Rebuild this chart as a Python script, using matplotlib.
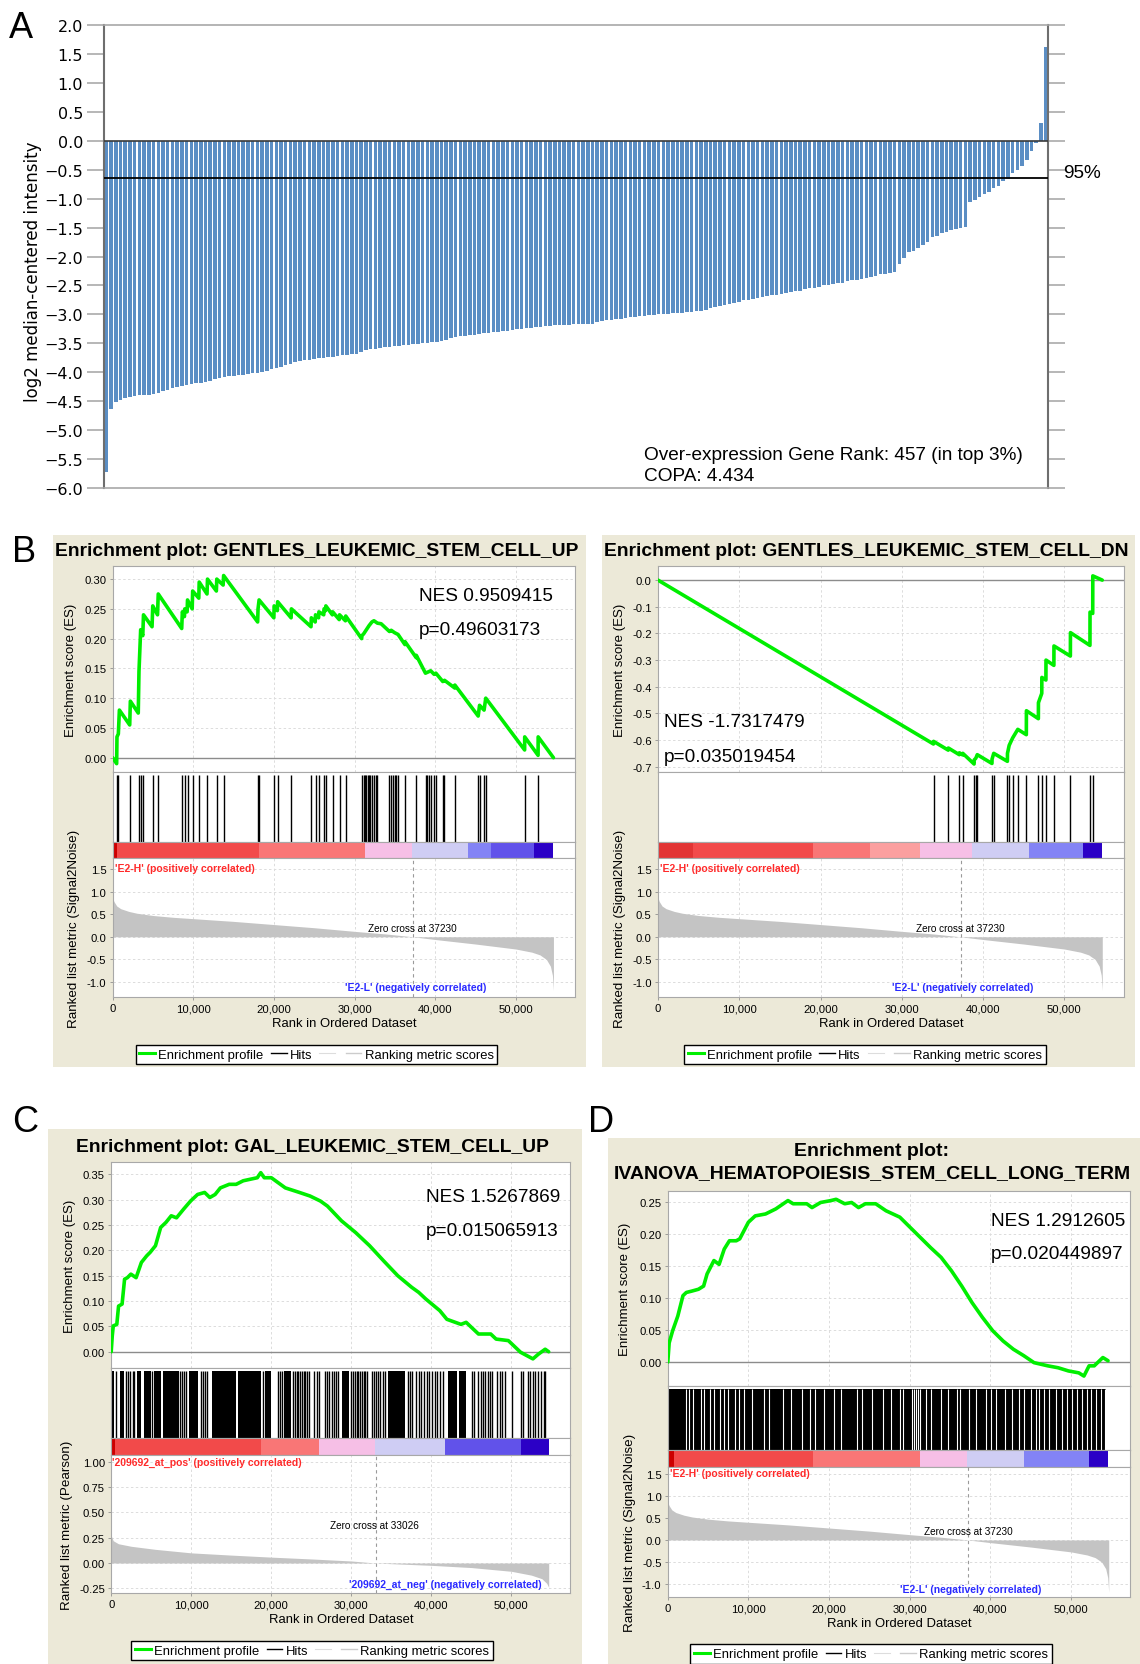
import numpy as np
import matplotlib
matplotlib.use('Agg')
import matplotlib.pyplot as plt
from matplotlib.patches import Rectangle
from matplotlib.lines import Line2D

SANS = ['Liberation Sans', 'DejaVu Sans']
plt.rcParams['font.family'] = SANS

# ── Panel A: COPA bar data (log2 median-centered intensity) ─────────────────
A_VALUES = [
    -5.72, -4.63, -4.52, -4.48, -4.45, -4.42, -4.41, -4.40, -4.40, -4.39,
    -4.37, -4.35, -4.33, -4.30, -4.27, -4.25, -4.23, -4.22, -4.21, -4.19,
    -4.18, -4.17, -4.15, -4.12, -4.10, -4.08, -4.07, -4.06, -4.05, -4.04,
    -4.03, -4.02, -4.01, -3.99, -3.97, -3.95, -3.93, -3.91, -3.88, -3.85,
    -3.82, -3.80, -3.79, -3.78, -3.77, -3.76, -3.75, -3.74, -3.73, -3.72,
    -3.71, -3.70, -3.69, -3.68, -3.65, -3.62, -3.60, -3.59, -3.58, -3.57,
    -3.56, -3.55, -3.54, -3.53, -3.53, -3.52, -3.51, -3.50, -3.49, -3.48,
    -3.48, -3.46, -3.44, -3.41, -3.39, -3.38, -3.37, -3.36, -3.35, -3.34,
    -3.33, -3.32, -3.31, -3.30, -3.29, -3.28, -3.27, -3.26, -3.25, -3.24,
    -3.23, -3.22, -3.21, -3.20, -3.20, -3.19, -3.19, -3.18, -3.18, -3.17,
    -3.17, -3.16, -3.16, -3.16, -3.14, -3.12, -3.10, -3.09, -3.08, -3.08,
    -3.06, -3.05, -3.04, -3.03, -3.02, -3.01, -3.01, -3.00, -2.99, -2.99,
    -2.98, -2.98, -2.97, -2.96, -2.96, -2.95, -2.95, -2.92, -2.89, -2.88,
    -2.86, -2.84, -2.82, -2.80, -2.78, -2.76, -2.75, -2.73, -2.72, -2.70,
    -2.69, -2.67, -2.66, -2.64, -2.63, -2.61, -2.60, -2.59, -2.57, -2.55,
    -2.54, -2.52, -2.50, -2.49, -2.47, -2.46, -2.45, -2.43, -2.41, -2.40,
    -2.39, -2.37, -2.35, -2.33, -2.31, -2.30, -2.28, -2.27, -2.13, -2.02,
    -1.93, -1.90, -1.86, -1.80, -1.75, -1.66, -1.64, -1.60, -1.57, -1.55,
    -1.53, -1.51, -1.49, -1.06, -1.03, -0.97, -0.92, -0.88, -0.82, -0.78,
    -0.70, -0.66, -0.56, -0.50, -0.43, -0.33, -0.17, -0.04, 0.31, 1.62,
]
A_CUTOFF = -0.65
A_TICKS = [2.0, 1.5, 1.0, 0.5, 0.0, -0.5, -1.0, -1.5, -2.0, -2.5, -3.0,
           -3.5, -4.0, -4.5, -5.0, -5.5, -6.0]
A_RANK_TEXT = 'Over-expression Gene Rank: 457 (in top 3%)'
A_COPA_TEXT = 'COPA: 4.434'

# ── GSEA: ranked metric (same E2-H vs E2-L dataset for B and D) ─────────────
RANK_TICKS = [0, 10000, 20000, 30000, 40000, 50000]
METRIC_S2N = [(0, 0.86), (150, 0.78), (500, 0.68), (1000, 0.62), (2000, 0.56),
              (3000, 0.52), (5000, 0.47), (7500, 0.43), (10000, 0.40),
              (15000, 0.34), (20000, 0.27), (25000, 0.20), (30000, 0.12),
              (34000, 0.06), (37230, 0.0), (40000, -0.06), (45000, -0.16),
              (50000, -0.27), (52000, -0.34), (53000, -0.40), (53800, -0.50),
              (54300, -0.65), (54550, -0.85), (54675, -1.18)]
METRIC_PEARSON = [(0, 0.27), (250, 0.22), (900, 0.19), (2500, 0.165),
                  (5500, 0.135), (10000, 0.10), (15000, 0.078), (20000, 0.058),
                  (25000, 0.040), (30000, 0.020), (33026, 0.0), (36000, -0.010),
                  (40000, -0.023), (45000, -0.045), (50000, -0.082),
                  (52500, -0.12), (53800, -0.155), (54400, -0.20), (54650, -0.24)]

# ── B left: GENTLES_LEUKEMIC_STEM_CELL_UP ───────────────────────────────────
B_UP_ES = [(0, 0.000), (490, -0.010), (530, 0.035), (700, 0.040), (830, 0.080),
           (2110, 0.055), (2190, 0.095), (3170, 0.075), (3260, 0.145),
           (3470, 0.215), (3730, 0.205), (3820, 0.240), (4880, 0.220),
           (4970, 0.255), (5560, 0.240), (5650, 0.275), (8560, 0.217),
           (8640, 0.245), (8900, 0.237), (8940, 0.250), (9230, 0.245),
           (9280, 0.265), (9860, 0.250), (9920, 0.280), (10680, 0.268),
           (10730, 0.295), (11700, 0.275), (11760, 0.300), (12860, 0.280),
           (12910, 0.300), (13700, 0.290), (13760, 0.306), (17980, 0.228),
           (18030, 0.250), (18160, 0.265), (19990, 0.235), (20030, 0.255),
           (20420, 0.247), (20460, 0.262), (22130, 0.235), (22170, 0.250),
           (24600, 0.220), (24640, 0.235), (25120, 0.228), (25160, 0.240),
           (25540, 0.235), (25580, 0.245), (26180, 0.240), (26220, 0.250),
           (26400, 0.247), (26440, 0.255), (27250, 0.240), (27290, 0.245),
           (28100, 0.232), (28140, 0.240), (28870, 0.230), (28910, 0.238),
           (30880, 0.200), (30920, 0.205), (31130, 0.208), (31470, 0.215),
           (31810, 0.222), (32160, 0.228), (32410, 0.230), (32840, 0.226),
           (33300, 0.225), (34330, 0.212), (34550, 0.214), (34970, 0.210),
           (35400, 0.207), (36250, 0.190), (36260, 0.195), (37650, 0.168),
           (37660, 0.172), (38800, 0.142), (39450, 0.146), (39880, 0.140),
           (40090, 0.142), (40950, 0.128), (41160, 0.130), (42440, 0.117),
           (42450, 0.122), (45340, 0.070), (45510, 0.088), (46070, 0.080),
           (46280, 0.100), (51100, 0.013), (51110, 0.035), (52770, 0.004),
           (52780, 0.035), (54675, 0.0)]
B_UP_HITS = [530, 700, 2190, 3260, 3470, 3820, 4970, 5650, 8640, 8940, 9280,
             9920, 10730, 11760, 12910, 13760, 18030, 18160, 20030, 20460,
             22170, 24640, 25160, 25580, 26220, 26440, 27290, 28140, 28910,
             30920, 31130, 31300, 31470, 31640, 31810, 31980, 32160, 32410,
             32630, 32840, 34330, 34550, 34760, 34970, 35180, 35400, 36250,
             37660, 38810, 39030, 39240, 39450, 39880, 40090, 40950, 41160,
             42440, 45340, 45510, 46070, 46280, 51100, 52770]
B_UP_BANDS = [(0, 500, 0), (500, 18100, 1), (18100, 31300, 2), (31300, 37100, 4),
              (37100, 44100, 5), (44100, 46900, 6), (46900, 52300, 7),
              (52300, 54675, 8)]

# ── B right: GENTLES_LEUKEMIC_STEM_CELL_DN ──────────────────────────────────
B_DN_ES = [(0, 0.0), (33900, -0.615), (33910, -0.605), (35720, -0.638),
           (35730, -0.630), (37080, -0.655), (37090, -0.648), (37500, -0.656),
           (37510, -0.650), (38900, -0.690), (38910, -0.675), (39120, -0.668),
           (39290, -0.655), (41100, -0.688), (41110, -0.672), (41320, -0.650),
           (43000, -0.680), (43010, -0.650), (43220, -0.620), (43650, -0.592),
           (44280, -0.560), (45330, -0.580), (45340, -0.490), (46810, -0.520),
           (46820, -0.460), (47230, -0.425), (47240, -0.365), (47740, -0.375),
           (47750, -0.300), (48720, -0.320), (48730, -0.247), (50750, -0.285),
           (50760, -0.197), (53160, -0.245), (53170, -0.120), (53500, -0.125),
           (53510, 0.016), (54675, 0.0)]
B_DN_HITS = [33910, 35730, 37090, 37510, 38910, 39120, 39290, 41110, 41320,
             43010, 43220, 43650, 44280, 45340, 46820, 47240, 47750, 48730,
             50760, 53170, 53510]
B_DN_BANDS = [(0, 4300, 9), (4300, 19100, 1), (19100, 26100, 2), (26100, 32300, 3),
              (32300, 38700, 4), (38700, 45700, 5), (45700, 52300, 6),
              (52300, 54675, 8)]

# ── C: GAL_LEUKEMIC_STEM_CELL_UP ────────────────────────────────────────────
C_ES = [(0, 0.0), (130, 0.031), (260, 0.051), (700, 0.054), (920, 0.090),
        (1360, 0.094), (1670, 0.143), (2020, 0.146), (2460, 0.153),
        (3110, 0.146), (3770, 0.176), (4430, 0.189), (4870, 0.196),
        (5530, 0.209), (6180, 0.245), (6840, 0.255), (7500, 0.268),
        (8160, 0.264), (9040, 0.281), (9910, 0.297), (10790, 0.310),
        (11670, 0.314), (12320, 0.304), (12980, 0.310), (13640, 0.323),
        (14740, 0.330), (15610, 0.330), (16490, 0.337), (17370, 0.340),
        (18250, 0.343), (18680, 0.353), (19120, 0.343), (20000, 0.343),
        (21750, 0.323), (23510, 0.314), (24830, 0.307), (26140, 0.297),
        (27020, 0.287), (28770, 0.258), (30530, 0.235), (32280, 0.209),
        (34040, 0.179), (35790, 0.150), (37540, 0.127), (38420, 0.117),
        (39300, 0.104), (41050, 0.081), (41930, 0.064), (43690, 0.054),
        (44340, 0.058), (45880, 0.035), (47410, 0.035), (48080, 0.025),
        (49610, 0.022), (51140, -0.001), (52680, -0.014), (53340, -0.005),
        (54210, 0.005), (54650, 0.0)]
C_HIT_BLOCKS = [(90, 390), (1050, 1580), (3250, 3770), (4040, 4910), (5310, 6230),
                (6490, 8420), (9690, 10880), (12540, 15610), (15880, 18680),
                (19210, 20000), (21580, 22460), (28860, 29740), (34560, 36670),
                (42020, 43250), (43470, 44340)]
C_HITS = [610, 1800, 2110, 2370, 2680, 2890, 5090, 8600, 8820, 9040, 9300,
          11230, 11490, 11750, 12020, 18950, 20880, 21140, 21320, 22720, 22940,
          23160, 23380, 23600, 23820, 24040, 24250, 24470, 24740, 25350, 25700,
          26010, 26670, 26930, 27240, 27540, 27810, 28110, 28330, 30000, 30220,
          30440, 30660, 30880, 31100, 31320, 31530, 31750, 31970, 32540, 32810,
          33030, 33380, 33640, 33900, 34170, 37020, 37320, 37540, 38070, 38420,
          38690, 39080, 39390, 39740, 40040, 40390, 40750, 41050, 41400, 45130,
          45350, 45880, 46140, 46400, 46750, 47020, 47320, 47630, 48160, 48510,
          48860, 49210, 50040, 51230, 51490, 52020, 52370, 52680, 52980, 53340,
          53690, 54030, 54210]
C_BANDS = [(0, 480, 0), (480, 18680, 1), (18680, 25920, 2), (25920, 32940, 4),
           (32940, 41710, 5), (41710, 51140, 7), (51140, 54650, 8)]

# ── D: IVANOVA_HEMATOPOIESIS_STEM_CELL_LONG_TERM ────────────────────────────
D_ES = [(0, 0.0), (170, 0.030), (600, 0.049), (1240, 0.072), (1880, 0.104),
        (2300, 0.109), (2940, 0.111), (3800, 0.114), (4440, 0.119),
        (4870, 0.138), (5720, 0.159), (6360, 0.153), (7000, 0.177),
        (7640, 0.190), (8490, 0.190), (8920, 0.193), (9990, 0.219),
        (10840, 0.229), (12120, 0.232), (13400, 0.240), (14900, 0.253),
        (15540, 0.248), (17240, 0.248), (17880, 0.242), (18950, 0.250),
        (20230, 0.253), (20870, 0.255), (21940, 0.248), (22790, 0.250),
        (23650, 0.242), (24500, 0.248), (25780, 0.248), (27060, 0.237),
        (28770, 0.227), (30050, 0.211), (31330, 0.195), (32610, 0.179),
        (33890, 0.164), (35170, 0.143), (36450, 0.119), (37730, 0.093),
        (39010, 0.070), (40290, 0.049), (41570, 0.033), (42850, 0.020),
        (44130, 0.010), (45410, -0.001), (47120, -0.006), (48400, -0.009),
        (49680, -0.014), (50960, -0.017), (51600, -0.022), (52240, -0.006),
        (52880, -0.006), (53950, 0.007), (54590, 0.002)]
D_HIT_BLOCKS = [(0, 54370)]
D_HIT_GAPS = [2220, 2650, 3160, 4100, 4440, 5290, 5720, 6490, 6910, 7510, 8280,
              8790, 9470, 10410, 11910, 12550, 14340, 15320, 16600, 17670, 18310,
              19380, 20660, 21510, 23430, 24070, 25350, 26630, 27700, 28770,
              29190, 30260, 30560, 30820, 31070, 31330, 31970, 32610, 33890,
              34740, 35810, 36230, 37300, 38160, 39440, 40080, 40720, 41780,
              42640, 43490, 44130, 44980, 45630, 46050, 46690, 47330, 48190,
              48830, 49470, 50110, 50750, 51390, 52030, 52450, 53090, 53730, 54160]
D_BANDS = [(0, 810, 0), (810, 18000, 1), (18000, 31330, 2), (31330, 37090, 4),
           (37090, 44130, 5), (44130, 52240, 6), (52240, 54590, 8)]

# ── style ───────────────────────────────────────────────────────────────────
FIG_W, FIG_H = 1140, 1665
BEIGE = '#ece9d8'
RANK_LIM = 57350
STRIP_PALETTE = ['#cc0000', '#f24a4a', '#f97676', '#fb9f9f', '#f6bfe6',
                 '#cfcdf4', '#8383f5', '#6152ea', '#2b00c6', '#e23434']

fig = plt.figure(figsize=(FIG_W / 100, FIG_H / 100), dpi=100)


def px_rect(x0, y0, x1, y1):
    return [x0 / FIG_W, 1 - y1 / FIG_H, (x1 - x0) / FIG_W, (y1 - y0) / FIG_H]


def fig_xy(x, y):
    return x / FIG_W, 1 - y / FIG_H


def beige(x0, y0, x1, y1):
    fig.add_artist(Rectangle((x0 / FIG_W, 1 - y1 / FIG_H), (x1 - x0) / FIG_W,
                             (y1 - y0) / FIG_H, transform=fig.transFigure,
                             color=BEIGE, lw=0, zorder=-10))


# ════════════════════════════════════════════════════════
# Panel A
# ════════════════════════════════════════════════════════
axA = fig.add_axes(px_rect(104, 26, 1048, 489))
xa = np.arange(len(A_VALUES))
axA.bar(xa, A_VALUES, width=0.74, color='#5b8ec4', linewidth=0, zorder=2)
axA.set_xlim(-0.5, len(A_VALUES) - 0.5)
axA.set_ylim(-6, 2)
axA.axhline(0, color='#3a3a3a', lw=1.2, zorder=3)
axA.axhline(A_CUTOFF, color='black', lw=1.3, zorder=3)
axA.set_yticks(A_TICKS, [f'{v:.1f}'.replace('-', '\u2212') for v in A_TICKS],
               fontfamily='DejaVu Sans', fontsize=11.5)
axA.set_xticks([])
axA.tick_params(axis='y', direction='out', length=12, width=1.2, color='#aaaaaa',
                right=True, pad=3)
for side in ('left', 'right'):
    axA.spines[side].set_color('#6e6e6e')
    axA.spines[side].set_linewidth(1.5)
for side in ('top', 'bottom'):
    axA.spines[side].set_color('#a8a8a8')
    axA.spines[side].set_linewidth(1.2)
axA.set_ylabel('log2 median-centered intensity', fontfamily='DejaVu Sans', fontsize=12)
axA.yaxis.set_label_coords((42 - 104) / 944, 0.47)
axA.text(1.016, A_CUTOFF + 0.11, '95%', transform=axA.get_yaxis_transform(),
         fontsize=13.7, va='center', ha='left', clip_on=False)
axA.text(0.572, 0.073, A_RANK_TEXT, transform=axA.transAxes, fontsize=13.7, va='center')
axA.text(0.572, 0.026, A_COPA_TEXT, transform=axA.transAxes, fontsize=13.7, va='center')


# ════════════════════════════════════════════════════════
# GSEA enrichment panels
# ════════════════════════════════════════════════════════
def style_axes(ax):
    ax.set_xlim(0, RANK_LIM)
    for s in ax.spines.values():
        s.set_color('#a8a8a8')
        s.set_linewidth(0.8)


def enrichment_panel(cfg):
    x0, x1 = cfg['x']
    y_es, y_hit, y_str, y_met, y_end = cfg['y']
    w = x1 - x0
    ax_es = fig.add_axes(px_rect(x0, y_es, x1, y_hit))
    ax_hit = fig.add_axes(px_rect(x0, y_hit, x1, y_str))
    ax_str = fig.add_axes(px_rect(x0, y_str, x1, y_met))
    ax_met = fig.add_axes(px_rect(x0, y_met, x1, y_end))
    for ax in (ax_es, ax_hit, ax_str, ax_met):
        style_axes(ax)

    # running enrichment score
    r, v = zip(*cfg['es'])
    ax_es.plot(r, v, color='#00ee00', lw=2.6, solid_joinstyle='round',
               solid_capstyle='round', zorder=3)
    ax_es.axhline(0, color='#8c8c8c', lw=1.0, zorder=2)
    ax_es.set_ylim(*cfg['es_lim'])
    ax_es.set_yticks(cfg['es_ticks'], [cfg['es_fmt'].format(t) for t in cfg['es_ticks']],
                     fontsize=8.1)
    ax_es.set_xticks(RANK_TICKS, [])
    ax_es.grid(True, color='#dcdcdc', lw=0.7, ls=(0, (2.5, 2.5)))
    ax_es.set_axisbelow(True)
    ax_es.tick_params(length=2.5, width=0.6, color='#909090', pad=2)
    ax_es.set_ylabel('Enrichment score (ES)', fontsize=9.5)
    ax_es.yaxis.set_label_coords(cfg['es_label_dx'] / w, 0.5)
    nx, ny1, ny2 = cfg['nes_xy']
    ax_es.text(nx, ny1, cfg['nes'], transform=ax_es.transAxes, fontsize=13.7, va='center')
    ax_es.text(nx, ny2, cfg['p'], transform=ax_es.transAxes, fontsize=13.7, va='center')

    # hits
    ax_hit.set_ylim(0, 1)
    ax_hit.set_xticks([])
    ax_hit.set_yticks([])
    if cfg.get('blocks'):
        ax_hit.broken_barh([(s, e - s) for s, e in cfg['blocks']], (0, 0.96),
                           color='black', lw=0)
    if cfg.get('hits'):
        ax_hit.vlines(cfg['hits'], 0, 0.96, color='black', lw=1.0)
    if cfg.get('gaps'):
        ax_hit.vlines(cfg['gaps'], 0, 0.96, color='white', lw=0.8)

    # colour strip
    ax_str.set_ylim(0, 1)
    ax_str.set_xticks([])
    ax_str.set_yticks([])
    for s, e, lev in cfg['bands']:
        ax_str.axvspan(s, e, color=STRIP_PALETTE[lev], lw=0)

    # ranked list metric
    mr, mv = zip(*cfg['metric'])
    ax_met.fill_between(mr, 0, mv, color='#c4c4c4', lw=0, zorder=2)
    ax_met.axvline(cfg['zero'], color='#9a9a9a', lw=0.8, ls=(0, (3, 3)), zorder=3)
    ax_met.set_ylim(*cfg['m_lim'])
    ax_met.set_yticks(cfg['m_ticks'], [cfg['m_fmt'].format(t) for t in cfg['m_ticks']],
                      fontsize=8.1)
    ax_met.set_xticks(RANK_TICKS, [f'{t:,}' for t in RANK_TICKS], fontsize=8.1)
    ax_met.grid(True, color='#dcdcdc', lw=0.7, ls=(0, (2.5, 2.5)))
    ax_met.set_axisbelow(True)
    ax_met.tick_params(length=2.5, width=0.6, color='#909090', pad=2)
    ax_met.set_xlabel('Rank in Ordered Dataset', fontsize=9.4, labelpad=3)
    ax_met.set_ylabel(cfg['m_name'], fontsize=9.6)
    ax_met.yaxis.set_label_coords(cfg['m_label_dx'] / w, 0.5)

    px_, py_ = cfg['pos_xy']
    ax_met.text(px_, py_, cfg['pos_label'], color='#ff2a2a', fontsize=7.5,
                fontweight='bold', ha='left', va='center', zorder=4)
    zx, zy = cfg['zero_xy']
    ax_met.text(zx, zy, f"Zero cross at {cfg['zero']}", fontsize=7.2, ha='center',
                va='center', zorder=4)
    gx, gy = cfg['neg_xy']
    ax_met.text(gx, gy, cfg['neg_label'], color='#2a2aff', fontsize=7.5,
                fontweight='bold', ha=cfg['neg_ha'], va='center', zorder=4)

    # legend
    handles = [Line2D([], [], color='#00ee00', lw=2.2),
               Line2D([], [], color='black', lw=1.0),
               Line2D([], [], color='#dddddd', lw=0.8),
               Line2D([], [], color='#cccccc', lw=1.0)]
    labels = ['Enrichment profile', 'Hits', '', 'Ranking metric scores']
    lx, ly = cfg['legend_xy']
    leg = fig.legend(handles, labels, loc='center', bbox_to_anchor=fig_xy(lx, ly),
                     ncol=4, frameon=True, fancybox=False, edgecolor='black',
                     framealpha=1, prop={'size': 9.4}, handlelength=1.2,
                     handletextpad=0.25, columnspacing=0.55, borderpad=0.3,
                     borderaxespad=0)
    leg.get_frame().set_linewidth(1.0)


# beige panel backgrounds
beige(53, 536, 586, 1068)
beige(602, 536, 1135, 1068)
beige(48, 1130, 582, 1665)
beige(608, 1139, 1140, 1665)

S2N_TICKS = [1.5, 1.0, 0.5, 0.0, -0.5, -1.0]
PEARSON_TICKS = [1.0, 0.75, 0.5, 0.25, 0.0, -0.25]

enrichment_panel(dict(
    x=(112.7, 575), y=(567, 773, 843, 859, 998),
    es=B_UP_ES, es_lim=(-0.024, 0.322), es_ticks=[0.0, 0.05, 0.1, 0.15, 0.2, 0.25, 0.3],
    es_fmt='{:.2f}', nes='NES 0.9509415', p='p=0.49603173', nes_xy=(0.663, 0.859, 0.694),
    es_label_dx=-35.5, hits=B_UP_HITS, bands=B_UP_BANDS,
    metric=METRIC_S2N, zero=37230, m_lim=(-1.33, 1.74), m_ticks=S2N_TICKS, m_fmt='{:.1f}',
    m_name='Ranked list metric (Signal2Noise)', m_label_dx=-33,
    pos_label="'E2-H' (positively correlated)", pos_xy=(275, 1.52),
    zero_xy=(37230, 0.19), neg_label="'E2-L' (negatively correlated)",
    neg_xy=(37540, -1.10), neg_ha='center', legend_xy=(316.5, 1055.5)))

enrichment_panel(dict(
    x=(658, 1124), y=(567, 773, 843, 859, 998),
    es=B_DN_ES, es_lim=(-0.72, 0.053),
    es_ticks=[0.0, -0.1, -0.2, -0.3, -0.4, -0.5, -0.6, -0.7],
    es_fmt='{:.1f}', nes='NES -1.7317479', p='p=0.035019454', nes_xy=(0.013, 0.244, 0.074),
    es_label_dx=-32.5, hits=B_DN_HITS, bands=B_DN_BANDS,
    metric=METRIC_S2N, zero=37230, m_lim=(-1.33, 1.74), m_ticks=S2N_TICKS, m_fmt='{:.1f}',
    m_name='Ranked list metric (Signal2Noise)', m_label_dx=-32.5,
    pos_label="'E2-H' (positively correlated)", pos_xy=(275, 1.52),
    zero_xy=(37230, 0.19), neg_label="'E2-L' (negatively correlated)",
    neg_xy=(37540, -1.10), neg_ha='center', legend_xy=(865, 1055.5)))

enrichment_panel(dict(
    x=(111.2, 570.3), y=(1163, 1369, 1439, 1456, 1594),
    es=C_ES, es_lim=(-0.032, 0.374),
    es_ticks=[0.0, 0.05, 0.1, 0.15, 0.2, 0.25, 0.3, 0.35],
    es_fmt='{:.2f}', nes='NES 1.5267869', p='p=0.015065913', nes_xy=(0.685, 0.832, 0.667),
    es_label_dx=-35, hits=C_HITS, blocks=C_HIT_BLOCKS, bands=C_BANDS,
    metric=METRIC_PEARSON, zero=33026, m_lim=(-0.296, 1.066), m_ticks=PEARSON_TICKS,
    m_fmt='{:.2f}', m_name='Ranked list metric (Pearson)', m_label_dx=-38.5,
    pos_label="'209692_at_pos' (positively correlated)", pos_xy=(130, 0.993),
    zero_xy=(32850, 0.377), neg_label="'209692_at_neg' (negatively correlated)",
    neg_xy=(53800, -0.207), neg_ha='right', legend_xy=(312.4, 1651.5)))

enrichment_panel(dict(
    x=(667.8, 1130.3), y=(1192, 1387, 1451, 1468, 1598),
    es=D_ES, es_lim=(-0.0376, 0.268), es_ticks=[0.0, 0.05, 0.1, 0.15, 0.2, 0.25],
    es_fmt='{:.2f}', nes='NES 1.2912605', p='p=0.020449897', nes_xy=(0.699, 0.851, 0.677),
    es_label_dx=-36.5, blocks=D_HIT_BLOCKS, gaps=D_HIT_GAPS, bands=D_BANDS,
    metric=METRIC_S2N, zero=37230, m_lim=(-1.29, 1.65), m_ticks=S2N_TICKS, m_fmt='{:.1f}',
    m_name='Ranked list metric (Signal2Noise)', m_label_dx=-32,
    pos_label="'E2-H' (positively correlated)", pos_xy=(260, 1.51),
    zero_xy=(37230, 0.195), neg_label="'E2-L' (negatively correlated)",
    neg_xy=(37540, -1.11), neg_ha='center', legend_xy=(871.4, 1655)))

# titles
TITLE_KW = dict(fontsize=13.9, fontweight='bold', ha='center', va='center')
fig.text(*fig_xy(317, 551), 'Enrichment plot: GENTLES_LEUKEMIC_STEM_CELL_UP', **TITLE_KW)
fig.text(*fig_xy(866, 551), 'Enrichment plot: GENTLES_LEUKEMIC_STEM_CELL_DN', **TITLE_KW)
fig.text(*fig_xy(312.7, 1147), 'Enrichment plot: GAL_LEUKEMIC_STEM_CELL_UP', **TITLE_KW)
fig.text(*fig_xy(872, 1151), 'Enrichment plot:', **dict(TITLE_KW, fontsize=14))
fig.text(*fig_xy(872, 1174), 'IVANOVA_HEMATOPOIESIS_STEM_CELL_LONG_TERM',
         **dict(TITLE_KW, fontsize=14))

# panel letters
for letter, x, y in [('A', 9, 38), ('B', 12, 562), ('C', 12, 1132), ('D', 588, 1132)]:
    fig.text(*fig_xy(x, y), letter, fontsize=26, ha='left', va='baseline')

fig.savefig('out.png', dpi=100, facecolor='white')
